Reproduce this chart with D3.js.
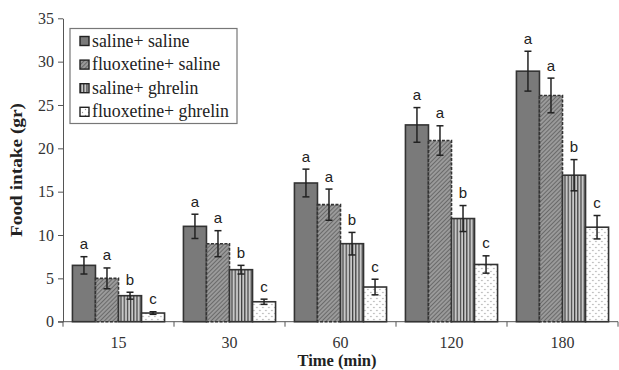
<!DOCTYPE html>
<html><head><meta charset="utf-8">
<script src="https://cdn.jsdelivr.net/npm/d3@7"></script>
<style>body{margin:0;background:#fff}svg{display:block}</style>
</head><body><svg id="c" width="619" height="370"></svg>
<script>
const categories = ["15","30","60","120","180"];
const seriesNames = ["saline+ saline","fluoxetine+ saline","saline+ ghrelin","fluoxetine+ ghrelin"];
const salineSaline = [6.5, 11, 16, 22.7, 28.9];
const fluoxSaline  = [5, 9, 13.5, 20.9, 26.1];
const salineGhrelin= [3, 6, 9, 11.9, 16.9];
const fluoxGhrelin = [1, 2.3, 4, 6.6, 10.9];
const errSalineSaline = [1.0, 1.4, 1.6, 2.0, 2.3];
const errFluoxSaline  = [1.2, 1.5, 1.8, 1.7, 2.0];
const errSalineGhrelin= [0.4, 0.5, 1.3, 1.5, 1.8];
const errFluoxGhrelin = [0.15, 0.3, 0.9, 1.0, 1.35];
const letters = ["a","a","b","c"];
const yTicks = [0,5,10,15,20,25,30,35];

const values = [salineSaline, fluoxSaline, salineGhrelin, fluoxGhrelin];
const errs = [errSalineSaline, errFluoxSaline, errSalineGhrelin, errFluoxGhrelin];

const svg = d3.select("#c");
const m = {left:63, top:18.3, right:1, bottom:48.3};
const W = 619, H = 370;
const x0 = d3.scaleBand().domain(categories).range([m.left, W - m.right]).paddingInner(0.17).paddingOuter(0.085);
const x1 = d3.scaleBand().domain(d3.range(4)).range([0, x0.bandwidth()]);
const y = d3.scaleLinear().domain([0,35]).range([H - m.bottom, m.top]);

const defs = svg.append("defs");
const p2 = defs.append("pattern").attr("id","p2").attr("patternUnits","userSpaceOnUse").attr("width",3).attr("height",3).attr("patternTransform","rotate(45)");
p2.append("rect").attr("width",3).attr("height",3).attr("fill","#9a9a9a");
p2.append("line").attr("x1",0).attr("y1",0).attr("x2",0).attr("y2",3).attr("stroke","#505050").attr("stroke-width",1.3);
const p3 = defs.append("pattern").attr("id","p3").attr("patternUnits","userSpaceOnUse").attr("width",3.2).attr("height",4);
p3.append("rect").attr("width",3.2).attr("height",4).attr("fill","#c8c8c8");
p3.append("line").attr("x1",0.6).attr("y1",0).attr("x2",0.6).attr("y2",4).attr("stroke","#333").attr("stroke-width",1.1);
const p4 = defs.append("pattern").attr("id","p4").attr("patternUnits","userSpaceOnUse").attr("width",6).attr("height",6);
p4.append("rect").attr("width",6).attr("height",6).attr("fill","#fff");
p4.append("circle").attr("cx",1.5).attr("cy",1.5).attr("r",0.7).attr("fill","#999");
p4.append("circle").attr("cx",4.5).attr("cy",4.5).attr("r",0.7).attr("fill","#999");

const fills = ["#7a7a7a","url(#p2)","url(#p3)","url(#p4)"];
const dashes = [null,"3,1.5",null,null];

const yAxis = svg.append("g").attr("transform",`translate(${m.left},0)`)
  .call(d3.axisLeft(y).tickValues(yTicks).tickSize(5).tickSizeOuter(0));
yAxis.select(".domain").attr("stroke","#555");
yAxis.selectAll(".tick line").attr("stroke","#555");
yAxis.selectAll("text").attr("font-family","Liberation Serif").attr("font-size",16).attr("fill","#333").attr("dx",-1);

const xAxisG = svg.append("g").attr("transform",`translate(0,${y(0)})`);
xAxisG.append("line").attr("x1",m.left-5).attr("x2",W - m.right).attr("stroke","#555");
const bounds = d3.range(categories.length+1).map(i => m.left + i*(W-m.right-m.left)/categories.length);
xAxisG.selectAll("line.tk").data(bounds).join("line").attr("class","tk")
  .attr("x1",d=>d).attr("x2",d=>d).attr("y1",0).attr("y2",5).attr("stroke","#555");
xAxisG.selectAll("text").data(categories).join("text")
  .attr("x",d=>x0(d)+x0.bandwidth()/2).attr("y",26)
  .attr("text-anchor","middle").attr("font-family","Liberation Serif").attr("font-size",16).attr("fill","#333").text(d=>d);

categories.forEach((c,ci)=>{
  const g = svg.append("g").attr("transform",`translate(${x0(c)},0)`);
  d3.range(4).forEach(s=>{
    const v = values[s][ci], e = errs[s][ci];
    const bx = x1(s), bw = x1.bandwidth();
    g.append("rect").attr("x",bx).attr("y",y(v)).attr("width",bw).attr("height",y(0)-y(v))
      .attr("fill",fills[s]).attr("stroke","#333").attr("stroke-width",1.6)
      .attr("stroke-dasharray",dashes[s]);
    const cx = bx + bw/2;
    g.append("line").attr("x1",cx).attr("x2",cx).attr("y1",y(v+e)).attr("y2",y(v-e)).attr("stroke","#222").attr("stroke-width",1.5);
    [v+e, v-e].forEach(t=>g.append("line").attr("x1",cx-3.5).attr("x2",cx+3.5).attr("y1",y(t)).attr("y2",y(t)).attr("stroke","#222").attr("stroke-width",1.5));
    g.append("text").attr("x",cx).attr("y",y(v+e)-7.5).attr("text-anchor","middle")
      .attr("font-family","Liberation Sans").attr("font-size",15).attr("fill","#222").text(letters[s]);
  });
});

svg.append("text").attr("x",337).attr("y",366).attr("text-anchor","middle")
  .attr("font-family","Liberation Serif").attr("font-weight","bold").attr("font-size",16.5).attr("fill","#222").text("Time (min)");
svg.append("text").attr("transform",`translate(22,${(y(0)+y(35))/2}) rotate(-90)`).attr("text-anchor","middle")
  .attr("font-family","Liberation Serif").attr("font-weight","bold").attr("font-size",16)
  .attr("textLength",134).attr("lengthAdjust","spacingAndGlyphs").attr("fill","#222").text("Food intake (gr)");

const lg = svg.append("g");
lg.append("rect").attr("x",70).attr("y",28.5).attr("width",167).attr("height",95).attr("fill","#fff").attr("stroke","#777").attr("stroke-width",1.2);
seriesNames.forEach((n,i)=>{
  const yy = 41.5 + i*23.6;
  lg.append("rect").attr("x",80).attr("y",yy-5).attr("width",9).attr("height",9)
    .attr("fill",fills[i]).attr("stroke","#222").attr("stroke-width",1.4);
  lg.append("text").attr("x",92).attr("y",yy+5).attr("font-family","Liberation Serif").attr("font-size",17.8).attr("fill","#222").text(n);
});
</script></body></html>
